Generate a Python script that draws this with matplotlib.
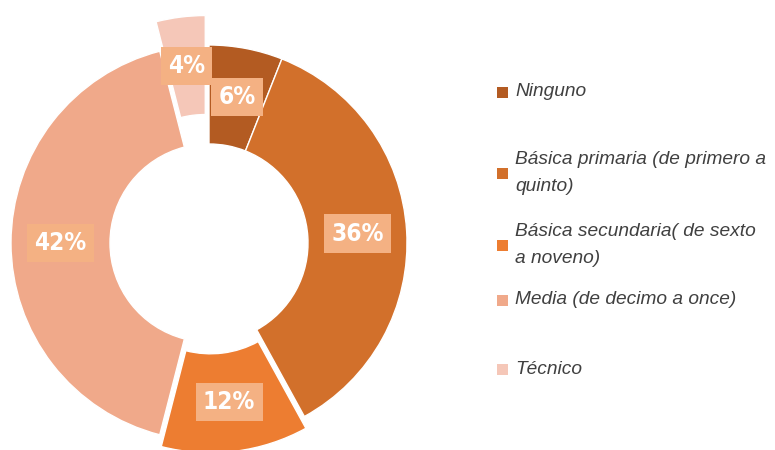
import matplotlib.pyplot as plt
from matplotlib.patches import Rectangle

# nivel educativo
categorias = ['Ninguno', 'Básica primaria (de primero a\nquinto)',
              'Básica secundaria( de sexto\na noveno)',
              'Media (de decimo a once)', 'Técnico']
porcentajes = [6, 36, 12, 42, 4]
colores = ['#B35B22', '#D2702B', '#ED7D31', '#F0A98A', '#F5C7B8']
separar = [0, 0, 0.06, 0, 0.15]

fig = plt.figure(figsize=(7.75, 4.5), dpi=100)
ax = fig.add_axes([0, 0, 1, 1])

R = 198  # radio en pixeles
cx, cy = 209, 243

wedges, _, etiquetas = ax.pie(porcentajes, colors=colores, explode=separar,
                              startangle=90, counterclock=False,
                              autopct=lambda p: f'{p:.0f}%', pctdistance=0.75,
                              wedgeprops=dict(width=0.5, edgecolor='white', linewidth=1))

ax.set_xlim(-cx / R, (775 - cx) / R)
ax.set_ylim(-(450 - cy) / R, cy / R)
ax.set_aspect('auto')
ax.axis('off')

for t in etiquetas:
    t.set_color('white')
    t.set_fontsize(17.5)
    t.set_fontweight('bold')
    t.set_fontstretch('condensed')
    t.set_family(['DejaVu Sans'])
    t.set_bbox(dict(boxstyle='square,pad=0.3', facecolor='#F4B183', edgecolor='none'))

# leyenda a mano
ys = [92, 173, 245, 300, 369]
for nombre, c, y in zip(categorias, colores, ys):
    yf = 1 - y / 450
    fig.patches.append(Rectangle((497 / 775, yf - 6 / 450), 11 / 775, 11 / 450,
                                 transform=fig.transFigure, facecolor=c, edgecolor='none'))
    fig.text(515 / 775, yf, nombre, fontsize=13.8, style='italic', color='#404040',
             va='center', ha='left', linespacing=1.75,
             family=['Liberation Sans', 'DejaVu Sans'])

plt.savefig('out.png', dpi=100)
